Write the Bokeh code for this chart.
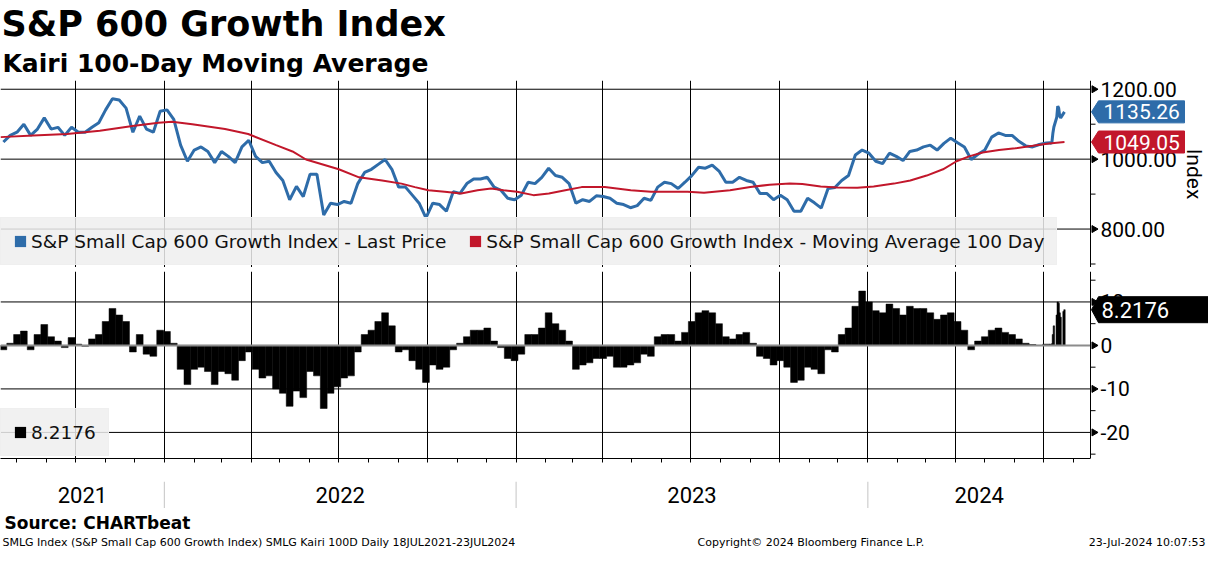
import math
import pandas as pd
from bokeh.plotting import figure
from bokeh.models import (Range1d, FixedTicker, Grid, Span, Label, Legend, LegendItem, Title,
                          ColumnDataSource)
from bokeh.layouts import column
from bokeh.embed import file_html
from bokeh.resources import INLINE
from bokeh.core.properties import value

# ---------------- data ----------------
weekly_start = "2021-07-18"
weekly_end = "2024-07-04"
price_weekly = [
    1049, 1068, 1077, 1100, 1068, 1086, 1118, 1086, 1091, 1068,
    1091, 1077, 1077, 1091, 1104, 1141, 1173, 1169, 1146, 1077,
    1123, 1086, 1077, 1137, 1141, 1114, 1040, 994, 1026, 1035,
    1022, 990, 1022, 1008, 990, 1035, 1054, 1008, 990, 994,
    962, 939, 884, 922, 893, 957, 957, 840, 874, 870,
    879, 874, 930, 962, 971, 985, 999, 971, 920, 920,
    897, 874, 832, 874, 870, 851, 907, 902, 930, 943,
    943, 948, 920, 911, 888, 884, 897, 934, 930, 948,
    974, 953, 948, 930, 874, 884, 879, 895, 893, 888,
    874, 870, 861, 867, 888, 882, 920, 934, 930, 916,
    934, 953, 977, 974, 983, 966, 934, 934, 948, 939,
    934, 902, 902, 884, 897, 884, 851, 851, 888, 875,
    860, 916, 919, 939, 953, 1012, 1026, 1017, 994, 987,
    1017, 1008, 996, 1022, 1026, 1035, 1040, 1026, 1045, 1060,
    1047, 1035, 999, 1014, 1026, 1063, 1075, 1068, 1068, 1051,
    1038, 1035, 1042, 1046,
]
kairi_weekly = [
    -1.0, 0.5, 2.5, 3.3, -1.0, 2.5, 4.8, 2.0, 1.0, -0.5,
    1.8, 0.3, -0.2, 1.5, 2.5, 5.5, 8.5, 7.0, 5.5, -1.5,
    2.5, -2.0, -2.5, 3.5, 3.2, 0.5, -5.5, -9.0, -5.5, -5.0,
    -6.0, -9.0, -6.0, -6.5, -8.0, -3.5, -1.5, -5.5, -7.5, -7.0,
    -10.0, -11.0, -14.0, -10.5, -12.0, -6.0, -7.0, -14.5, -11.0, -9.5,
    -7.5, -7.0, -1.5, 2.5, 3.5, 5.5, 7.5, 4.5, -1.5, -1.0,
    -3.5, -5.5, -8.5, -4.5, -5.5, -5.0, -1.0, 0.5, 2.0, 3.5,
    3.5, 4.0, 1.0, -0.5, -3.0, -3.5, -2.0, 2.5, 2.5, 4.0,
    7.5, 5.0, 3.5, 1.0, -5.5, -4.5, -4.0, -3.0, -3.0, -2.5,
    -5.0, -5.0, -4.5, -4.0, -2.0, -2.5, 2.0, 2.5, 2.5, 1.0,
    3.0, 5.5, 7.5, 8.0, 7.5, 5.0, 2.0, 1.5, 2.5, 3.0,
    0.5, -2.5, -3.0, -4.5, -3.5, -5.0, -8.5, -8.0, -5.0, -5.5,
    -6.5, -1.0, -1.5, 2.5, 4.0, 9.0, 12.5, 10.0, 8.0, 7.5,
    9.5, 8.5, 7.0, 9.0, 8.5, 8.5, 7.5, 6.0, 7.0, 7.5,
    5.5, 3.5, -1.0, 1.0, 2.0, 3.5, 4.0, 3.0, 2.5, 1.5,
    0.5, 0.2, 0.0, 0.3,
]
daily_dates = ["2024-07-08", "2024-07-09", "2024-07-10", "2024-07-11", "2024-07-12",
               "2024-07-15", "2024-07-16", "2024-07-17", "2024-07-18", "2024-07-19",
               "2024-07-22", "2024-07-23"]
price_daily = [1047, 1045, 1049, 1075, 1092, 1120, 1152, 1146, 1124, 1118, 1131, 1135.26]
kairi_daily = [0.3, 0.1, 0.4, 2.5, 4.5, 7.0, 10.0, 9.7, 7.5, 6.5, 7.8, 8.2176]

ma_dates = [
    "2021-07-15", "2021-08-18", "2021-09-22", "2021-10-26", "2021-11-29", "2021-12-26",
    "2022-01-09", "2022-01-30", "2022-03-05", "2022-03-29", "2022-04-27", "2022-05-14",
    "2022-05-28", "2022-07-01", "2022-07-22", "2022-08-15", "2022-09-04", "2022-09-18",
    "2022-10-02", "2022-10-19", "2022-11-05", "2022-11-22", "2022-12-06", "2022-12-19",
    "2023-01-02", "2023-01-19", "2023-02-04", "2023-02-21", "2023-03-10", "2023-04-03",
    "2023-04-30", "2023-05-21", "2023-06-28", "2023-07-15", "2023-08-11", "2023-09-01",
    "2023-09-21", "2023-10-12", "2023-10-25", "2023-11-13", "2023-11-30", "2023-12-21",
    "2024-01-07", "2024-01-28", "2024-02-14", "2024-03-02", "2024-03-19", "2024-04-02",
    "2024-04-15", "2024-04-29", "2024-05-16", "2024-06-02", "2024-06-20", "2024-07-07",
    "2024-07-23",
]
ma_values = [
    1063, 1068, 1072, 1081, 1095, 1104,
    1107, 1100, 1086, 1072, 1040, 1022,
    999, 971, 948, 939, 930, 920,
    911, 907, 902, 911, 916, 911,
    907, 897, 902, 911, 920, 920,
    911, 907, 907, 904, 911, 920,
    927, 930, 929, 922, 919, 918,
    922, 930, 939, 953, 971, 994,
    1008, 1019, 1026, 1031, 1038, 1045,
    1049.05,
]
last_price = 1135.26
last_ma = 1049.05
last_kairi = 8.2176

price_label = "S&P Small Cap 600 Growth Index - Last Price"
ma_label = "S&P Small Cap 600 Growth Index - Moving Average 100 Day"
top_ticks = [800, 1000, 1200]
top_tick_labels = ["800.00", "1000.00", "1200.00"]
top_minor = [700, 900, 1100]
bot_ticks = [-20, -10, 0, 10]
bot_tick_labels = ["-20", "-10", "0", "10"]
bot_minor = [-25, -15, -5, 5, 15]
year_labels = ["2021", "2022", "2023", "2024"]
axis_title = "Index"
title_text = "S&P 600 Growth Index"
subtitle_text = "Kairi 100-Day Moving Average"
source_text = "Source: CHARTbeat"
footer_left = "SMLG Index (S&P Small Cap 600 Growth Index) SMLG Kairi 100D  Daily 18JUL2021-23JUL2024"
footer_mid = "Copyright\u00a9 2024 Bloomberg Finance L.P."
footer_right = "23-Jul-2024 10:07:53"

# ---------------- layout / style ----------------
W = 1208
DATA_W = 1090          # width of the plotting area left of the value axis
TITLE_H = 80
TOP_H = 187
SEP_H = 4
BOT_H = 187
BOT_AX = 10
YR_TOP = 13
YR_H = 27
FOOT_H = 42
BLUE = "#2e6ca9"
RED = "#c2172b"
TICK_FONT = "Roboto"
TXT_FONT = "DejaVu Sans"
LEG_BG = "#efefef"


def ms(t):
    return pd.Timestamp(t).value / 1e6


x_start = pd.Timestamp("2021-07-15")
x_axis_at = pd.Timestamp("2024-08-19")   # where the value axis sits
X0, AX = ms(x_start), ms(x_axis_at)
MS_PER_PX = (AX - X0) / DATA_W


def px(n):
    return n * MS_PER_PX


xr = Range1d(start=X0, end=X0 + px(W))
top_range = Range1d(690, 1225)
bot_range = Range1d(-26, 17)

weekly_dates = pd.date_range(weekly_start, weekly_end, periods=len(price_weekly))
d_daily = pd.to_datetime(daily_dates)
dates_all = list(weekly_dates) + list(d_daily)
price_all = price_weekly + price_daily
kairi_all = kairi_weekly + kairi_daily
wk_w = (weekly_dates[1] - weekly_dates[0]).total_seconds() * 1000
day_w = 1.5 * 86400000
widths = [wk_w] * len(kairi_weekly) + [day_w] * len(kairi_daily)

quarters = [ms(t) for t in pd.date_range("2021-10-01", "2024-07-01", freq="QS")]
months = [ms(t) for t in pd.date_range("2021-08-01", "2024-08-01", freq="MS")]
year_starts = [pd.Timestamp(f"{y}-01-01") for y in (2022, 2023, 2024)]
bounds = [x_start] + year_starts + [x_axis_at]
year_mids = [bounds[i] + (bounds[i + 1] - bounds[i]) / 2 for i in range(len(year_labels))]


def base_fig(height, y_range, **kw):
    p = figure(width=W, height=height, x_range=xr, y_range=y_range,
               x_axis_location=None, y_axis_location=None, toolbar_location=None,
               output_backend="svg", title=None, min_border_left=0, min_border_right=0,
               **kw)
    p.outline_line_color = None
    p.grid.visible = False
    return p


def add_grid_and_axis(p, rng, ticks, tick_labels, minor, grid_ticks, label_size):
    # vertical grid at quarter starts
    p.add_layout(Grid(dimension=0, ticker=FixedTicker(ticks=quarters),
                      grid_line_color="black", grid_line_width=1))
    # horizontal grid lines stop at the value axis
    n = len(grid_ticks)
    p.segment(x0=[X0] * n, x1=[AX] * n, y0=grid_ticks, y1=grid_ticks,
              line_color="black", line_width=1)
    # value axis on the right
    p.add_layout(Span(location=AX, dimension="height", line_color="black", line_width=1))
    p.scatter(x=[AX + px(3.5)] * len(ticks), y=ticks, marker="triangle",
              angle=-math.pi / 2, size=7, fill_color="black", line_color="black")
    p.segment(x0=[AX] * len(minor), x1=[AX + px(5)] * len(minor), y0=minor, y1=minor,
              line_color="black", line_width=1)
    p.text(x=[AX + px(10)] * len(ticks), y=ticks, text=tick_labels,
           text_font=value(TICK_FONT), text_font_size=label_size, text_color="black",
           text_align="left", text_baseline="middle")


def add_tag(p, rng, frame_h, v, text, color, right_px, half_px, font_size, text_dx):
    half = half_px * (rng.end - rng.start) / frame_h
    xs = [AX + px(1), AX + px(8), AX + px(right_px), AX + px(right_px), AX + px(8)]
    ys = [v, v + half, v + half, v - half, v - half]
    p.patch(xs, ys, fill_color=color, line_color=color, line_width=1)
    p.text(x=[AX + px(text_dx)], y=[v], text=[text], text_font=value(TICK_FONT),
           text_font_size=font_size, text_color="white", text_align="left",
           text_baseline="middle")


def make_legend(items):
    return Legend(items=items, location=(0, 2), orientation="horizontal", margin=0,
                  padding=12, spacing=22, label_standoff=4, glyph_width=14, glyph_height=14,
                  label_height=22, label_text_font=TXT_FONT, label_text_font_size="18.5px",
                  label_text_color="#111111", background_fill_color=LEG_BG,
                  background_fill_alpha=0.85, border_line_color=LEG_BG,
                  border_line_alpha=0.85, border_line_width=1)


# ---------------- top panel ----------------
p1 = base_fig(TITLE_H + TOP_H, top_range, min_border_top=TITLE_H, min_border_bottom=0)
add_grid_and_axis(p1, top_range, top_ticks, top_tick_labels, top_minor, top_ticks, "21px")
p1.text(x=[AX + px(103)], y=[(top_range.start + top_range.end) / 2], text=[axis_title],
        angle=-math.pi / 2, text_font=value(TICK_FONT), text_font_size="21px",
        text_color="black", text_align="center", text_baseline="middle")

p1.line(dates_all, price_all, line_color=BLUE, line_width=3)
p1.line(pd.to_datetime(ma_dates), ma_values, line_color=RED, line_width=2)

# zero-area placeholder quads that only provide the square legend swatches
lg_b = p1.quad(left=[dates_all[0]], right=[dates_all[0]], top=[price_all[0]],
               bottom=[price_all[0]], fill_color=BLUE, line_color=None)
lg_r = p1.quad(left=[dates_all[0]], right=[dates_all[0]], top=[price_all[0]],
               bottom=[price_all[0]], fill_color=RED, line_color=None)
p1.add_layout(make_legend([LegendItem(label=price_label, renderers=[lg_b]),
                           LegendItem(label=ma_label, renderers=[lg_r])]))

p1.add_layout(Title(text=subtitle_text, align="left", offset=2, standoff=6,
                    text_font=TXT_FONT, text_font_size="25px", text_font_style="bold",
                    text_color="black"), "above")
p1.add_layout(Title(text=title_text, align="left", offset=1, standoff=0,
                    text_font=TXT_FONT, text_font_size="35px", text_font_style="bold",
                    text_color="black"), "above")

add_tag(p1, top_range, TOP_H, last_price, f"{last_price:.2f}", BLUE, 94, 11, "21px", 13)
add_tag(p1, top_range, TOP_H, last_ma, f"{last_ma:.2f}", RED, 94, 11, "21px", 13)

# ---------------- separator bar ----------------
sep = figure(width=W, height=SEP_H, x_axis_location=None, y_axis_location=None,
             toolbar_location=None, output_backend="svg", min_border=0,
             background_fill_color="#4a4a4a", border_fill_color="#4a4a4a")
sep.outline_line_color = None
sep.grid.visible = False

# ---------------- bottom panel ----------------
p2 = figure(width=W, height=BOT_H + BOT_AX, x_range=xr, y_range=bot_range,
            x_axis_type="datetime", y_axis_location=None, toolbar_location=None,
            output_backend="svg", title=None, min_border_left=0, min_border_right=0,
            min_border_top=0, min_border_bottom=BOT_AX)
p2.outline_line_color = None
p2.grid.visible = False
xa = p2.xaxis[0]
xa.ticker = FixedTicker(ticks=[], minor_ticks=months)
xa.bounds = (X0, AX)
xa.axis_line_color = "black"
xa.major_tick_out = 0
xa.major_tick_in = 0
xa.minor_tick_out = 4
xa.minor_tick_in = 0
xa.minor_tick_line_color = "black"
xa.major_label_standoff = 0

src = ColumnDataSource(dict(x=dates_all, top=kairi_all, w=widths))
p2.vbar(x="x", top="top", bottom=0, width="w", source=src, fill_color="black",
        line_color="black", line_width=0.5)
p2.segment(x0=[X0], x1=[AX], y0=[0], y1=[0], line_color="#8c8c8c", line_width=2)
add_grid_and_axis(p2, bot_range, bot_ticks, bot_tick_labels, bot_minor,
                  [t for t in bot_ticks if t != 0], "21px")

lg_k = p2.quad(left=[dates_all[0]], right=[dates_all[0]], top=[0], bottom=[0],
               fill_color="black", line_color=None)
p2.add_layout(make_legend([LegendItem(label=f"{last_kairi:.4f}", renderers=[lg_k])]))

add_tag(p2, bot_range, BOT_H, last_kairi, f"{last_kairi:.4f}", "black", 125, 13, "22px", 11)

# ---------------- year labels ----------------
p3 = base_fig(YR_TOP + YR_H, Range1d(0, 1), min_border_top=YR_TOP, min_border_bottom=0)
for ys in year_starts:
    p3.add_layout(Span(location=ms(ys), dimension="height", line_color="#c4c4c4", line_width=1))
p3.text(x=year_mids, y=[0.5] * len(year_labels), text=year_labels,
        text_font=value(TICK_FONT), text_font_size="22px", text_align="center",
        text_baseline="middle", text_color="black")

# ---------------- footer ----------------
p4 = figure(width=W, height=FOOT_H, x_range=Range1d(0, W), y_range=Range1d(0, FOOT_H),
            x_axis_location=None, y_axis_location=None, toolbar_location=None,
            output_backend="svg", title=None, min_border=0)
p4.outline_line_color = None
p4.grid.visible = False
p4.add_layout(Label(x=4, y=28, text=source_text, text_font=TXT_FONT, text_font_size="17px",
                    text_font_style="bold", text_baseline="middle", text_color="black"))
p4.add_layout(Label(x=2, y=8, text=footer_left, text_font=TXT_FONT, text_font_size="11px",
                    text_baseline="middle", text_color="black"))
p4.add_layout(Label(x=697, y=8, text=footer_mid, text_font=TXT_FONT, text_font_size="11px",
                    text_baseline="middle", text_color="black"))
p4.add_layout(Label(x=W - 3, y=8, text=footer_right, text_font=TXT_FONT,
                    text_font_size="11px", text_baseline="middle", text_align="right",
                    text_color="black"))

layout = column(p1, sep, p2, p3, p4, spacing=0)
open("out.html", "w").write(file_html(layout, INLINE))
